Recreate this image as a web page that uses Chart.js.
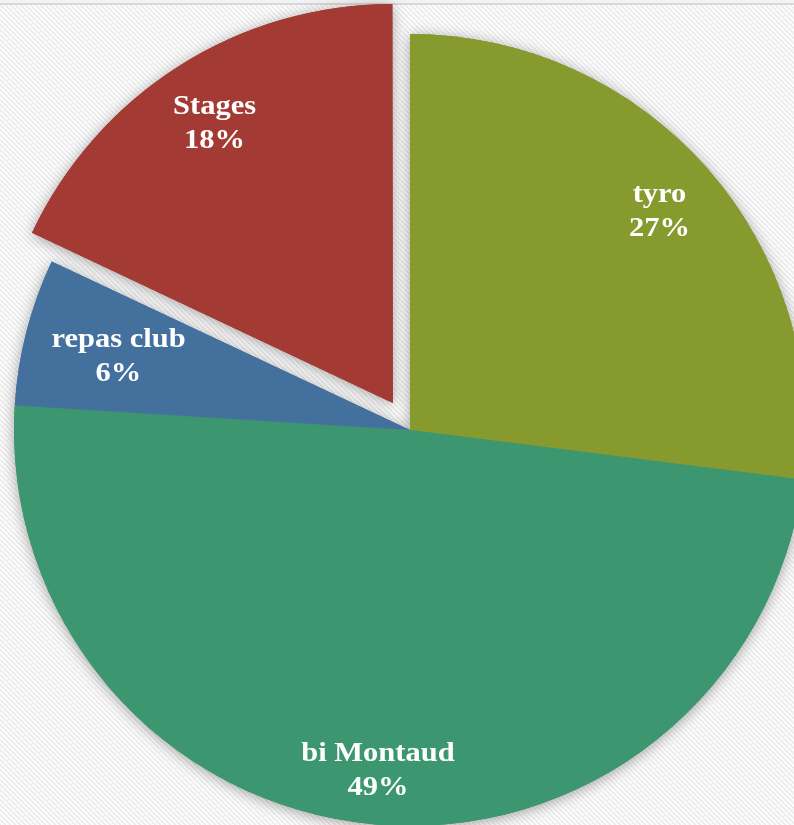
<!DOCTYPE html>
<html>
<head>
<meta charset="utf-8">
<script src="https://cdn.jsdelivr.net/npm/chart.js@4/dist/chart.umd.min.js"></script>
<style>
  html, body { margin: 0; padding: 0; background: #ffffff; }
  canvas { display: block; }
</style>
</head>
<body>
<canvas id="pie" width="794" height="825"></canvas>
<script>
// slices, clockwise from 12 o'clock
const labels = ['tyro', 'bi Montaud', 'repas club', 'Stages'];
const values = [27, 49, 6, 18];
const colors = ['#869A2E', '#3C9670', '#44709E', '#A33B34'];

// how far the exploded slice is pulled out (px) and where the labels sit
const explode = [0, 0, 0, 32];
const labelRadius = [0.84, 0.86, 0.76, 0.84];

// light diagonal texture of the plot background
const makePattern = (ctx) => {
    const tile = document.createElement('canvas');
    tile.width = 5;
    tile.height = 5;
    const t = tile.getContext('2d');
    t.fillStyle = '#fbfbfb';
    t.fillRect(0, 0, 5, 5);
    t.fillStyle = '#ebebeb';
    for (let y = 0; y < 5; y++) {
        for (let x = 0; x < 5; x++) {
            const k = ((x - y) % 5 + 5) % 5;
            if (k === 0 || k === 1) t.fillRect(x, y, 1, 1);
        }
    }
    return ctx.createPattern(tile, 'repeat');
};

const pluginBackground = {
    id: 'texturedBackground',
    beforeDraw(chart) {
        const {ctx, width, height} = chart;
        ctx.save();
        ctx.fillStyle = makePattern(ctx);
        ctx.fillRect(0, 0, width, height);
        ctx.fillStyle = '#f3f3f3';
        ctx.fillRect(0, 0, width, 3);
        ctx.fillStyle = '#d9d9d9';
        ctx.fillRect(0, 3, width, 2);
        ctx.restore();
    }
};

// soft shadow under the slices: draw them once with a shadow, the real pass covers the fill
const pluginShadow = {
    id: 'sliceShadow',
    beforeDatasetsDraw(chart) {
        const {ctx} = chart;
        const meta = chart.getDatasetMeta(0);
        ctx.save();
        ctx.shadowColor = 'rgba(0, 0, 0, 0.35)';
        ctx.shadowBlur = 14;
        ctx.shadowOffsetX = 0;
        ctx.shadowOffsetY = 2;
        meta.data.forEach(arc => arc.draw(ctx));
        ctx.restore();
    }
};

const pluginLabels = {
    id: 'sliceLabels',
    afterDatasetsDraw(chart) {
        const {ctx} = chart;
        const meta = chart.getDatasetMeta(0);
        const total = values.reduce((a, b) => a + b, 0);
        ctx.save();
        ctx.fillStyle = '#ffffff';
        ctx.font = 'bold 27px "Liberation Serif", "Times New Roman", serif';
        ctx.textAlign = 'center';
        ctx.textBaseline = 'alphabetic';
        meta.data.forEach((arc, i) => {
            const {x, y, startAngle, endAngle, outerRadius} = arc.getProps(['x', 'y', 'startAngle', 'endAngle', 'outerRadius'], true);
            const mid = (startAngle + endAngle) / 2;
            const r = outerRadius * labelRadius[i] + explode[i];
            const cx = x + Math.cos(mid) * r;
            const cy = y + Math.sin(mid) * r;
            const pct = Math.round(values[i] / total * 100) + '%';
            [[labels[i], cy - 8], [pct, cy + 26]].forEach(([txt, by]) => {
                ctx.save();
                ctx.translate(cx, by);
                ctx.scale(1.13, 1);
                ctx.fillText(txt, 0, 0);
                ctx.restore();
            });
        });
        ctx.restore();
    }
};

const config = {
    type: 'pie',
    data: {
        labels: labels,
        datasets: [{
            data: values,
            backgroundColor: colors,
            borderWidth: 0,
            // arc elements move by offset / 4
            offset: explode.map(e => e * 4),
            hoverOffset: 0,
            radius: 396
        }]
    },
    plugins: [pluginBackground, pluginShadow, pluginLabels],
    options: {
        responsive: false,
        animation: false,
        events: [],
        layout: {
            padding: { left: 26, top: 35, right: 0, bottom: 0 }
        },
        plugins: {
            legend: { display: false },
            title: { display: false },
            tooltip: { enabled: false }
        }
    }
};

new Chart(document.getElementById('pie'), config);
</script>
</body>
</html>
